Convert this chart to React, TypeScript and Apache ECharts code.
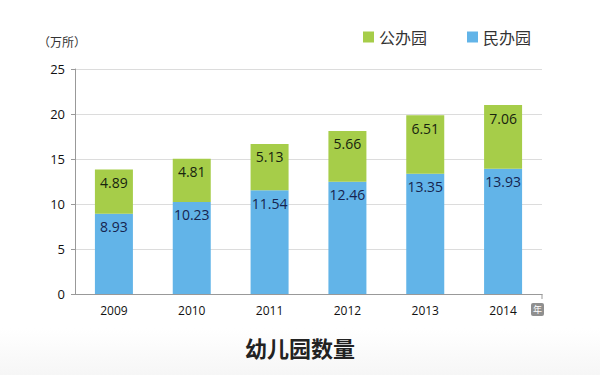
import React, { useEffect, useRef } from "react";
import * as echarts from "echarts";

const years = ["2009", "2010", "2011", "2012", "2013", "2014"];
const minban = [8.93, 10.23, 11.54, 12.46, 13.35, 13.93];
const gongban = [4.89, 4.81, 5.13, 5.66, 6.51, 7.06];
const yTicks = { min: 0, max: 25, interval: 5 };

const FONT = "'Noto Sans CJK SC', 'Open Sans', sans-serif";

export default function App() {
  const ref = useRef<HTMLDivElement>(null);
  useEffect(() => {
    const chart = echarts.init(ref.current!, null, { renderer: "svg" });
    chart.setOption({
      animation: false,
      backgroundColor: "#ffffff",
      textStyle: { fontFamily: FONT },
      graphic: [
        {
          type: "rect",
          left: 0,
          top: 328,
          shape: { width: 600, height: 47 },
          style: {
            fill: new echarts.graphic.LinearGradient(0, 0, 0, 1, [
              { offset: 0, color: "#ffffff" },
              { offset: 1, color: "#f6f6f6" },
            ]),
          },
          z: -1,
        },
        {
          type: "text",
          left: 38,
          top: 35,
          style: { text: "（万所）", fontSize: 12, fill: "#333", fontFamily: FONT },
        },
        {
          type: "text",
          left: "center",
          top: 336,
          style: { text: "幼儿园数量", fontSize: 22, fontWeight: "bold", fill: "#222", fontFamily: FONT },
        },
        {
          type: "group",
          left: 531,
          top: 303,
          children: [
            { type: "rect", shape: { x: 0, y: 0, width: 13, height: 13, r: 2 }, style: { fill: "#8f8f8f" } },
            { type: "text", x: 6.5, y: 6.5, style: { text: "年", fontSize: 9, fill: "#fff", align: "center", verticalAlign: "middle", fontFamily: FONT } },
          ],
        },
        {
          type: "line",
          shape: { x1: 542, y1: 294, x2: 542, y2: 299 },
          style: { stroke: "#999", lineWidth: 1 },
        },
      ],
      legend: {
        top: 24,
        left: 358,
        itemWidth: 11,
        itemHeight: 11,
        itemGap: 40,
        icon: "rect",
        textStyle: { fontSize: 16, color: "#333", fontFamily: FONT },
        data: ["公办园", "民办园"],
      },
      grid: { left: 75, right: 58, top: 69, bottom: 81 },
      xAxis: {
        type: "category",
        data: years,
        axisLine: { lineStyle: { color: "#999" } },
        axisTick: { show: false },
        axisLabel: { color: "#111", fontSize: 12, margin: 10, fontFamily: "'Open Sans', sans-serif" },
      },
      yAxis: {
        type: "value",
        min: yTicks.min,
        max: yTicks.max,
        interval: yTicks.interval,
        axisLine: { show: true, lineStyle: { color: "#999" } },
        axisTick: { show: true, length: 4, lineStyle: { color: "#999" } },
        axisLabel: { color: "#111", fontSize: 13, margin: 10, fontFamily: "'Open Sans', sans-serif" },
        splitLine: { lineStyle: { color: "#dcdcdc" } },
      },
      series: [
        {
          name: "民办园",
          type: "bar",
          stack: "total",
          barWidth: 38,
          data: minban,
          itemStyle: { color: "#62b4e8" },
          label: {
            show: true,
            position: "insideTop",
            distance: 6,
            color: "#16244f",
            fontSize: 14,
            fontFamily: "'Open Sans', sans-serif",
            formatter: (p: any) => p.value.toFixed(2),
          },
        },
        {
          name: "公办园",
          type: "bar",
          stack: "total",
          barWidth: 38,
          data: gongban,
          itemStyle: { color: "#a6cd49" },
          label: {
            show: true,
            position: "insideTop",
            distance: 6,
            color: "#18240f",
            fontSize: 14,
            fontFamily: "'Open Sans', sans-serif",
            formatter: (p: any) => p.value.toFixed(2),
          },
        },
      ],
    });
    return () => chart.dispose();
  }, []);
  return <div ref={ref} style={{ width: 600, height: 375, position: "absolute", left: 0, top: 0 }} />;
}
